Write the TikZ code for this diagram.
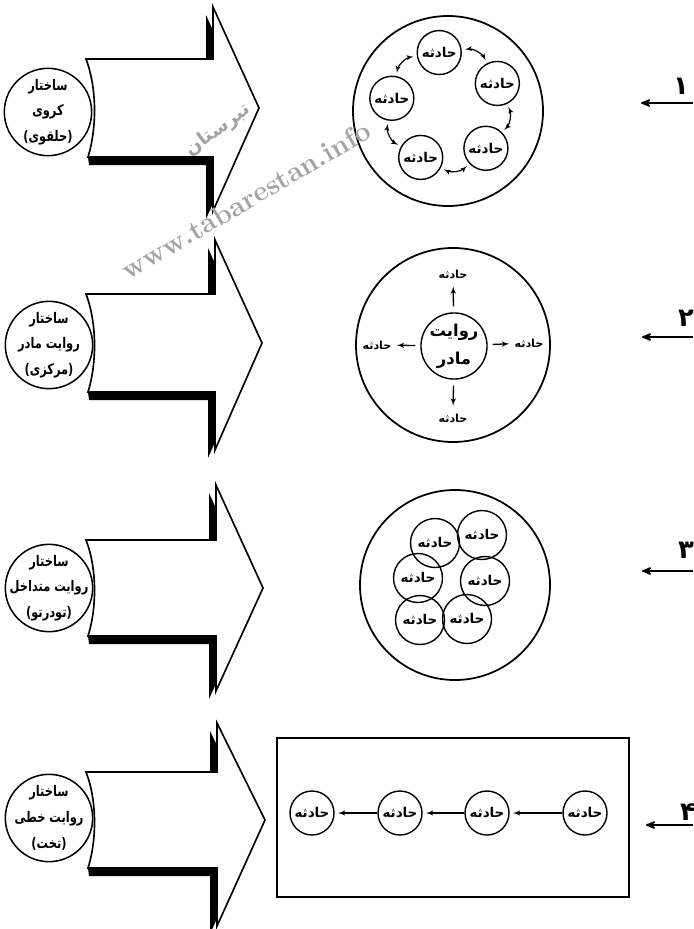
\documentclass[tikz,border=0pt]{standalone}
\usepackage{fontspec}
\usepackage{tikz}
\usetikzlibrary{arrows}
\usetikzlibrary{calc}
\newfontfamily\fafont[Script=Arabic]{DejaVu Sans}
\TeXXeTstate=1
\newcommand{\fatext}[1]{\beginR #1\endR}
\newcommand{\fanarrow}[1]{\scalebox{0.78}[1]{\beginR #1\endR}}
\tikzset{title/.style = {circle, draw, line width=1.3pt, fill=white, minimum size=2.62cm, inner sep=0pt},
         title text/.style = {align=center, inner sep=0pt,
                              font=\fafont\bfseries\fontsize{12.5}{22}\selectfont},
         event/.style = {circle, draw, line width=1.2pt, minimum size=1.32cm, inner sep=0pt,
                         font=\fafont\bfseries\fontsize{11.5}{11.5}\selectfont},
         ring/.style = {circle, draw, line width=1.5pt, inner sep=0pt},
         tag/.style = {inner sep=1pt, font=\fafont\bfseries\fontsize{9.5}{9.5}\selectfont},
         big arrow/.style = {draw, line width=1.4pt, fill=white, line join=miter},
         num/.style = {anchor=south east, inner sep=0pt,
                       font=\fafont\bfseries\fontsize{22}{22}\selectfont},
         dbl/.style = {latex'-latex', line width=1pt, shorten <=1mm, shorten >=1mm},
         sarr/.style = {-latex', line width=1.1pt},
         numarr/.style = {-stealth', line width=1.6pt}}
\definecolor{wmgray}{rgb}{0.64, 0.64, 0.64}

\begin{document}
\begin{tikzpicture}[x=0.03cm, y=-0.03cm]
      \useasboundingbox (0,0) rectangle (693,929);

      % the four big arrows
      \begin{scope}[shift={(0,108)}]
        \fill (100,-41) -- (206,-41) -- (206,-93) -- (252,8) -- (206,111) -- (206,57) -- (89,57) -- (88,49) -- (100,30) -- cycle;
        \draw [big arrow] (86,-49) -- (213,-49) -- (213,-101) -- (259,0) -- (213,103) -- (213,49) -- (88,49) .. controls (97,20) and (97,-20) .. (86,-49) -- cycle;
      \end{scope}
      \begin{scope}[shift={(0,343)}]
        \fill (100,-41) -- (208,-41) -- (208,-95) -- (255,8) -- (208,115) -- (208,57) -- (89,57) -- (88,49) -- (100,30) -- cycle;
        \draw [big arrow] (86,-49) -- (215,-49) -- (215,-103) -- (262,0) -- (215,107) -- (215,49) -- (88,49) .. controls (97,20) and (97,-20) .. (86,-49) -- cycle;
      \end{scope}
      \begin{scope}[shift={(0,588)}]
        \fill (100,-40) -- (209,-40) -- (209,-95) -- (256,8) -- (209,111) -- (209,56) -- (89,56) -- (88,48) -- (100,30) -- cycle;
        \draw [big arrow] (86,-48) -- (216,-48) -- (216,-103) -- (263,0) -- (216,103) -- (216,48) -- (88,48) .. controls (97,20) and (97,-20) .. (86,-48) -- cycle;
      \end{scope}
      \begin{scope}[shift={(0,820)}]
        \fill (100,-40) -- (210,-40) -- (210,-89) -- (258,8) -- (210,114) -- (210,56) -- (89,56) -- (88,48) -- (100,30) -- cycle;
        \draw [big arrow] (86,-48) -- (217,-48) -- (217,-97) -- (265,0) -- (217,106) -- (217,48) -- (88,48) .. controls (97,20) and (97,-20) .. (86,-48) -- cycle;
      \end{scope}

      \node [title] (st1) at (48,112) {};
      \node [title] (st2) at (49,345) {};
      \node [title] (st3) at (49,588) {};
      \node [title] (st4) at (49,818) {};
      \node [title text] (st1t) at (st1) {\fanarrow{ساختار}\\\fanarrow{کروی}\\\fanarrow{(حلقوی)}};
      \node [title text] (st2t) at (st2) {\fanarrow{ساختار}\\\fanarrow{روایت مادر}\\\fanarrow{(مرکزی)}};
      \node [title text] (st3t) at (st3) {\fanarrow{ساختار}\\\fanarrow{روایت متداخل}\\\fanarrow{(تودرتو)}};
      \node [title text] (st4t) at (st4) {\fanarrow{ساختار}\\\fanarrow{روایت خطی}\\\fanarrow{(تخت)}};

      % 1: ring of events
      \node [ring, minimum size=5.7cm] (ring1) at (448,111) {};
      \coordinate (c1) at (447,108);
      \node [event] (e11) at ($(c1)+(-98:56)$) {\fatext{حادثه}};
      \node [event] (e12) at ($(c1)+(-26:56)$) {\fatext{حادثه}};
      \node [event] (e13) at ($(c1)+(46:56)$) {\fatext{حادثه}};
      \node [event] (e14) at ($(c1)+(118:56)$) {\fatext{حادثه}};
      \node [event] (e15) at ($(c1)+(-170:56)$) {\fatext{حادثه}};
      \draw [dbl] (e11) to [bend left=35] (e12);
      \draw [dbl] (e12) to [bend left=35] (e13);
      \draw [dbl] (e13) to [bend left=35] (e14);
      \draw [dbl] (e14) to [bend left=35] (e15);
      \draw [dbl] (e15) to [bend left=35] (e11);

      % 2: mother narrative
      \node [ring, minimum size=5.82cm] (ring2) at (453,345) {};
      \node [ring, line width=1.2pt, minimum size=1.92cm, align=center,
             font=\fafont\bfseries\fontsize{14}{24}\selectfont] (mom) at (454,346) {\fatext{روایت}\\\fatext{مادر}};
      \node [tag] (t21) at (453,274) {\fatext{حادثه}};
      \node [tag] (t22) at (529,343) {\fatext{حادثه}};
      \node [tag] (t23) at (453,418) {\fatext{حادثه}};
      \node [tag] (t24) at (377,345) {\fatext{حادثه}};
      \draw [sarr, shorten <=1.8mm, shorten >=2mm] (mom) -- (t21);
      \draw [sarr, shorten <=1.5mm, shorten >=1.2mm] (mom) -- (t22);
      \draw [sarr, shorten <=1.8mm, shorten >=2mm] (mom) -- (t23);
      \draw [sarr, shorten <=1.5mm, shorten >=1.2mm] (mom) -- (t24);

      % 3: nested events
      \node [ring, minimum size=5.7cm] (ring3) at (455,585) {};
      \node [event, minimum size=1.47cm] (e31) at (435,543) {\fatext{حادثه}};
      \node [event, minimum size=1.47cm] (e32) at (482,535) {\fatext{حادثه}};
      \node [event, minimum size=1.47cm] (e33) at (418,578) {\fatext{حادثه}};
      \node [event, minimum size=1.47cm] (e34) at (485,581) {\fatext{حادثه}};
      \node [event, minimum size=1.47cm] (e35) at (420,620) {\fatext{حادثه}};
      \node [event, minimum size=1.47cm] (e36) at (467,619) {\fatext{حادثه}};

      % 4: linear events
      \draw [line width=1.4pt] (277,738) rectangle (629,897);
      \node [event] (e41) at (585,813) {\fatext{حادثه}};
      \node [event] (e42) at (487,813) {\fatext{حادثه}};
      \node [event] (e43) at (400,813) {\fatext{حادثه}};
      \node [event] (e44) at (312,813) {\fatext{حادثه}};
      \draw [sarr, shorten >=1mm] (e41) -- (e42);
      \draw [sarr, shorten >=1mm] (e42) -- (e43);
      \draw [sarr, shorten >=1mm] (e43) -- (e44);

      % numbers
      \node [num] (n1) at (689,95) {\fatext{۱}};
      \node [num] (n2) at (694,327) {\fatext{۲}};
      \node [num] (n3) at (694,559) {\fatext{۳}};
      \node [num] (n4) at (696,821) {\fatext{۴}};
      \coordinate (q1) at (693,103);  \coordinate (p1) at (641,103);
      \coordinate (q2) at (693,337);  \coordinate (p2) at (642,337);
      \coordinate (q3) at (693,571);  \coordinate (p3) at (642,571);
      \coordinate (q4) at (693,825);  \coordinate (p4) at (646,825);
      \draw [numarr] (q1) -- (p1);
      \draw [numarr] (q2) -- (p2);
      \draw [numarr] (q3) -- (p3);
      \draw [numarr] (q4) -- (p4);

      % watermark
      \node [rotate=30.5, text=wmgray, font=\bfseries\fontsize{24}{24}\selectfont] (wm) at (246,200) {www.tabarestan.info};
      \node [rotate=36, text=wmgray, font=\fafont\bfseries\fontsize{16}{16}\selectfont] (wmfa) at (218,130) {\fatext{تبرستان}};
    \end{tikzpicture}
\end{document}
